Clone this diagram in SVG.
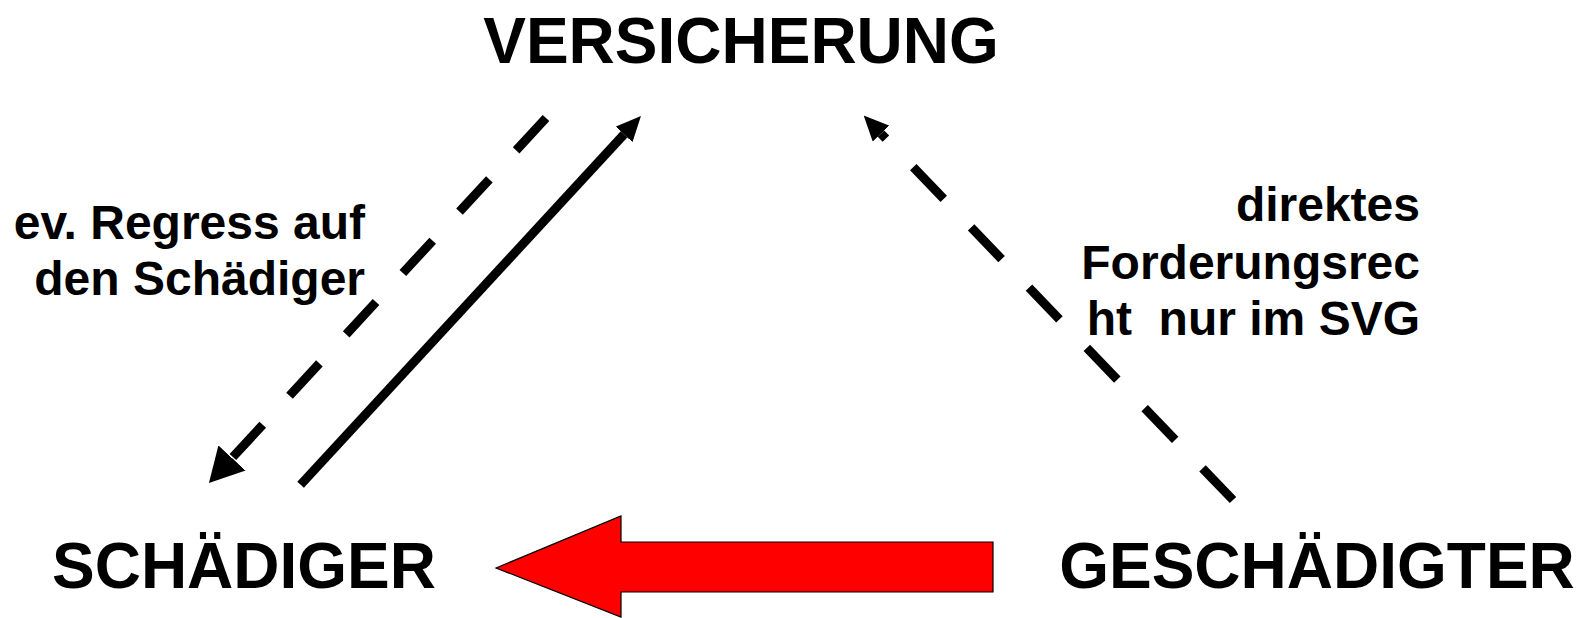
<svg xmlns="http://www.w3.org/2000/svg" width="1593" height="618" viewBox="0 0 1593 618">
  <style>
    .title { font-family: "Liberation Sans", Arial, sans-serif; font-weight: bold; font-size: 64px; fill: #000; text-anchor: middle; }
    .label { font-family: "Liberation Sans", Arial, sans-serif; font-weight: bold; font-size: 48px; fill: #000; text-anchor: end; white-space: pre; }
    .conn { fill: none; stroke: #000; stroke-width: 9; stroke-linecap: butt; }
    .dash { stroke-dasharray: 44 39.5; }
  </style>
  <defs>
    <marker id="headBig" viewBox="0 -18.5 34 37" refX="0" refY="0" markerWidth="34" markerHeight="37" markerUnits="userSpaceOnUse" orient="auto">
      <path d="M0,-18.5 L34,0 L0,18.5 Z" fill="#000"/>
    </marker>
    <marker id="headSmall" viewBox="0 -11.5 25 23" refX="0" refY="0" markerWidth="25" markerHeight="23" markerUnits="userSpaceOnUse" orient="auto">
      <path d="M0,-11.5 L25,0 L0,11.5 Z" fill="#000"/>
    </marker>
  </defs>
  <rect width="1593" height="618" fill="#fff"/>

  <g id="versicherung">
    <text class="title" x="741" y="63">VERSICHERUNG</text>
  </g>
  <g id="schaediger">
    <text class="title" x="244" y="588">SCHÄDIGER</text>
  </g>
  <g id="geschaedigter">
    <text class="title" x="1317" y="588">GESCHÄDIGTER</text>
  </g>

  <g id="connectors">
    <!-- ev. Regress: Versicherung -> Schädiger (dashed) -->
    <path class="conn dash" d="M546,118 L232,458" marker-end="url(#headBig)"/>
    <!-- Schädiger -> Versicherung (solid) -->
    <path class="conn" d="M300.6,484.7 L624,134.4" marker-end="url(#headSmall)"/>
    <!-- Geschädigter -> Versicherung (dashed) -->
    <path class="conn dash" d="M1233,500 L881,133.6" marker-end="url(#headSmall)"/>
    <!-- Geschädigter -> Schädiger (red block arrow) -->
    <polygon points="496,568 621,516 621,542 993,542 993,592 621,592 621,617" fill="#ff0000" stroke="#000" stroke-width="1.2" stroke-linejoin="miter"/>
  </g>

  <g id="label-regress">
    <text class="label" x="365" y="239">ev. Regress auf</text>
    <text class="label" x="365" y="295">den Schädiger</text>
  </g>
  <g id="label-direkt">
    <text class="label" x="1420" y="221">direktes</text>
    <text class="label" x="1420" y="279">Forderungsrec</text>
    <text class="label" x="1420" y="335">ht  nur im SVG</text>
  </g>
</svg>
